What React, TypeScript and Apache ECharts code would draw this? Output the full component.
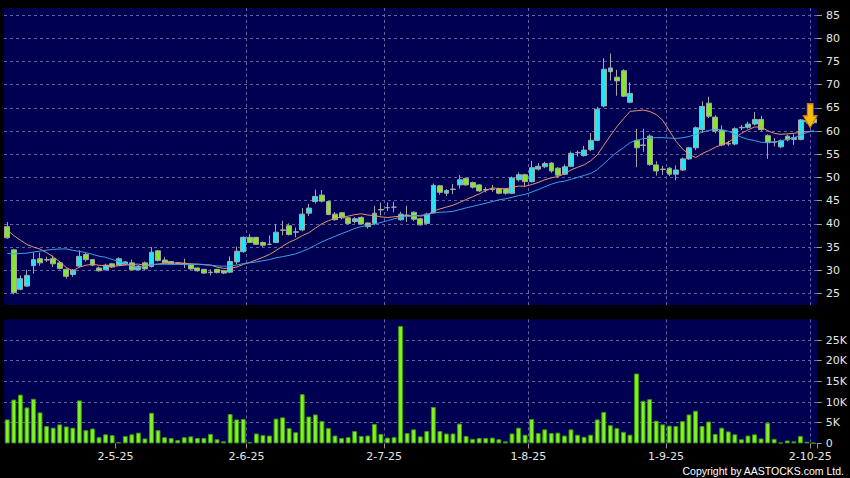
import React, { useEffect, useRef } from 'react';
import * as echarts from 'echarts';

// HK trading calendar used for the categories
const firstDay = [2025, 3, 3]; // 3 Apr 2025 (month is 0-based)
const dayCount = 124;
const holidays = ['2025-04-04', '2025-04-18', '2025-04-21', '2025-05-01', '2025-05-05', '2025-07-01', '2025-10-01'];
const tickLabels = ['2-5-25', '2-6-25', '2-7-25', '1-8-25', '1-9-25', '2-10-25'];

const opens = [
  39.4, 34.4, 25.9, 26.6, 31.0, 32.5, 32.2, 32.5, 31.6, 30.2,
  29.1, 30.9, 33.4, 32.3, 30.5, 30.1, 31.4, 31.1, 31.3, 31.6,
  30.1, 31.6, 30.8, 34.2, 32.2, 31.9, 31.5, 31.5, 31.3, 30.5,
  30.2, 29.5, 30.2, 29.9, 29.6, 31.8, 34.0, 37.1, 37.1, 36.0,
  35.6, 36.0, 38.6, 39.6, 38.2, 38.7, 42.3, 44.8, 46.2, 44.8,
  42.1, 42.4, 41.3, 40.5, 41.4, 40.2, 40.1, 43.0, 43.5, 43.6,
  40.9, 41.8, 42.5, 41.1, 40.1, 42.4, 48.2, 46.6, 47.4, 48.4,
  49.8, 48.9, 48.4, 47.3, 47.4, 47.6, 47.5, 46.6, 49.5, 50.6,
  49.1, 51.8, 52.3, 53.1, 52.0, 50.7, 52.4, 55.3, 54.7, 56.0,
  58.0, 65.4, 72.8, 71.6, 73.0, 66.2, 58.0, 57.0, 58.9, 52.7,
  51.7, 52.0, 50.7, 51.6, 54.0, 56.4, 60.3, 66.0, 63.0, 60.1,
  57.2, 57.2, 60.7, 60.8, 61.5, 62.5, 59.0, 57.6, 56.6, 58.9,
  58.2, 58.2, 62.0, 62.6,
];
const closes = [
  37.0, 25.2, 28.2, 28.9, 32.3, 31.6, 32.3, 31.4, 30.4, 28.7,
  30.0, 33.0, 32.3, 31.1, 29.9, 31.1, 30.7, 32.5, 31.8, 30.1,
  30.9, 30.3, 33.9, 32.1, 31.6, 31.4, 31.6, 31.4, 30.3, 29.9,
  29.4, 29.6, 29.5, 29.4, 31.9, 34.1, 37.1, 36.0, 35.6, 35.4,
  35.6, 38.2, 38.7, 37.7, 38.3, 42.1, 43.4, 45.9, 44.9, 42.0,
  40.9, 41.3, 40.1, 41.1, 40.0, 39.4, 42.3, 43.1, 43.5, 43.6,
  42.1, 41.9, 41.0, 39.8, 42.1, 48.3, 46.8, 47.2, 47.5, 49.5,
  48.4, 47.9, 47.1, 47.4, 47.5, 46.6, 46.6, 49.9, 50.6, 49.1,
  52.1, 52.4, 53.0, 51.4, 50.5, 52.3, 55.2, 55.4, 55.9, 58.0,
  64.7, 73.3, 73.6, 70.8, 67.5, 68.1, 56.4, 56.9, 52.8, 51.4,
  51.8, 50.7, 51.6, 54.0, 56.4, 60.7, 65.3, 63.2, 60.0, 57.0,
  57.3, 60.5, 60.8, 61.5, 62.5, 60.3, 57.5, 57.6, 57.9, 58.1,
  58.6, 62.4, 62.3, 61.8,
];
const lows = [
  36.8, 24.8, 25.7, 26.4, 29.3, 31.0, 31.8, 30.7, 30.2, 28.2,
  28.6, 30.6, 31.9, 30.9, 29.7, 30.0, 30.5, 30.9, 31.1, 30.0,
  30.0, 30.1, 30.6, 31.9, 31.5, 31.2, 31.3, 30.5, 30.1, 29.7,
  29.2, 28.9, 29.3, 29.2, 29.4, 31.3, 33.8, 35.9, 35.5, 35.0,
  35.4, 35.9, 37.5, 37.5, 37.1, 38.4, 41.7, 44.4, 44.6, 41.9,
  40.7, 41.0, 39.9, 40.1, 39.8, 39.0, 39.7, 41.8, 42.8, 42.5,
  40.7, 40.4, 40.6, 39.6, 39.9, 42.2, 46.3, 46.0, 46.4, 47.6,
  48.2, 47.6, 46.9, 46.8, 46.9, 46.4, 46.3, 46.4, 49.1, 48.0,
  48.9, 51.5, 52.0, 51.0, 50.0, 50.5, 52.2, 54.5, 54.5, 55.7,
  57.8, 65.1, 70.9, 67.6, 67.3, 66.0, 52.2, 55.5, 52.5, 50.4,
  50.6, 50.3, 49.4, 51.4, 53.8, 55.9, 59.6, 62.8, 59.5, 56.8,
  56.8, 56.9, 60.2, 60.5, 61.2, 60.0, 54.0, 56.7, 56.3, 57.8,
  57.0, 58.0, 61.6, 61.5,
];
const highs = [
  40.4, 34.6, 28.9, 30.1, 33.9, 33.8, 32.9, 33.2, 32.0, 30.4,
  30.3, 34.3, 33.8, 32.4, 30.8, 31.4, 31.6, 32.8, 32.0, 32.3,
  31.1, 31.9, 35.0, 34.4, 32.9, 32.0, 31.8, 32.5, 31.5, 30.6,
  30.3, 30.2, 30.3, 30.0, 33.0, 35.1, 37.3, 37.8, 37.2, 36.2,
  37.5, 40.0, 40.7, 40.1, 39.2, 43.4, 44.3, 47.4, 47.3, 44.9,
  42.6, 42.5, 41.5, 41.5, 41.6, 40.3, 43.9, 44.6, 44.6, 44.8,
  42.6, 43.9, 42.7, 41.3, 42.4, 48.7, 48.4, 47.5, 48.6, 50.5,
  50.0, 49.1, 48.6, 47.9, 48.4, 47.8, 47.6, 50.2, 51.1, 50.8,
  53.6, 53.1, 53.4, 53.3, 52.2, 52.8, 55.6, 55.8, 56.8, 59.6,
  65.2, 75.7, 76.7, 73.2, 73.3, 70.5, 60.5, 60.5, 59.3, 53.5,
  52.5, 52.2, 52.6, 54.3, 56.6, 61.0, 66.4, 67.4, 63.4, 61.2,
  57.9, 60.8, 61.3, 62.0, 64.1, 63.3, 59.3, 58.5, 58.2, 59.2,
  59.3, 62.6, 62.7, 62.8,
];
const volumes = [
  5800, 10600, 11800, 8700, 10800, 7500, 4200, 3800, 4600, 4100,
  3800, 10400, 3200, 3600, 1500, 2200, 2000, 300, 1800, 2200,
  2600, 1200, 7400, 3200, 1500, 1300, 800, 1500, 1700, 1300,
  1300, 2300, 1000, 500, 7100, 5800, 5900, 300, 2400, 2000,
  1900, 6000, 6300, 3700, 2700, 11900, 6500, 7000, 5400, 3700,
  1900, 1300, 1500, 3000, 1800, 1900, 4700, 2300, 1400, 1500,
  28400, 2500, 3400, 1700, 3000, 8800, 3000, 2400, 2400, 4800,
  1800, 1100, 1300, 1300, 1400, 1000, 500, 2400, 3800, 2100,
  5900, 2500, 3400, 2500, 2600, 1900, 3400, 2100, 1600, 2100,
  5800, 7600, 4400, 3700, 2800, 2100, 16900, 10300, 10700, 5500,
  4600, 4300, 4200, 5400, 7000, 7900, 4200, 5300, 2300, 3800,
  2900, 2200, 1000, 1900, 2200, 1200, 5000, 1100, 200, 700,
  500, 1800, 400, 100,
];
// closes before the first visible day (estimated so the averages start where the picture shows)
const priorCloses = [26.5, 27, 27.2, 27.5, 27.8, 28, 28.3, 28.6, 28.5, 36, 37.5, 38, 38.2, 37.9, 35.8, 40, 40.5, 41, 41.1];

const NAVY = '#000052';
const GRID_LINE = { color: '#62629c', type: [3, 3] as number[], width: 1 };
const LABEL_COLOR = '#e6e6e6';
const FONT = 'DejaVu Sans';

function tradingDays(): string[] {
  const out: string[] = [];
  const d = new Date(Date.UTC(firstDay[0], firstDay[1], firstDay[2]));
  while (out.length < dayCount) {
    const iso = d.toISOString().slice(0, 10);
    const wd = d.getUTCDay();
    if (wd !== 0 && wd !== 6 && !holidays.includes(iso)) {
      out.push(`${d.getUTCDate()}-${d.getUTCMonth() + 1}-${String(d.getUTCFullYear()).slice(2)}`);
    }
    d.setUTCDate(d.getUTCDate() + 1);
  }
  return out;
}

function movingAverage(n: number): number[] {
  const all = priorCloses.concat(closes);
  return closes.map((_, i) => {
    const end = priorCloses.length + i;
    let s = 0;
    for (let j = end - n + 1; j <= end; j++) s += all[j];
    return +(s / n).toFixed(3);
  });
}

function buildOption() {
  const dates = tradingDays();
  const isTick = (_i: number, v: string) => tickLabels.includes(v);
  const ohlc = opens.map((o, i) => [o, closes[i], lows[i], highs[i]]);
  const hiddenX = (gridIndex: number, split: boolean) => ({
    type: 'category', gridIndex, data: dates, boundaryGap: true,
    axisLine: { show: false }, axisTick: { show: false }, axisLabel: { show: false },
    splitLine: { show: split, interval: isTick, showMinLine: false, showMaxLine: false, lineStyle: GRID_LINE },
  });
  const rightAxisCommon = {
    type: 'value', position: 'right',
    axisLine: { show: false },
    axisTick: { show: true, length: 5, lineStyle: { color: '#9a9a9a' } },
  };
  return {
    animation: false,
    backgroundColor: '#000',
    textStyle: { fontFamily: FONT },
    graphic: [
      { type: 'rect', z: -10, silent: true, shape: { x: 4, y: 8, width: 813, height: 297 }, style: { fill: NAVY } },
      { type: 'rect', z: -10, silent: true, shape: { x: 4, y: 319.4, width: 813, height: 124 }, style: { fill: NAVY } },
      {
        type: 'text', x: 844, y: 471, silent: true,
        style: { text: 'Copyright by AASTOCKS.com Ltd.', fill: '#ffffff', font: '10.5px "Liberation Sans"', align: 'right', verticalAlign: 'middle' },
      },
    ],
    grid: [
      { left: 4, right: 33, top: 15, height: 278.5 },
      { left: 4, right: 33, top: 340, height: 103.4 },
      { left: 4, right: 33, top: 8, height: 297 },
      { left: 4, right: 33, top: 319.4, height: 124 },
    ],
    xAxis: [
      hiddenX(0, false),
      {
        type: 'category', gridIndex: 1, data: dates, boundaryGap: true,
        axisLine: { show: false },
        axisTick: { show: true, interval: isTick, length: 5, lineStyle: { color: '#9a9a9a' } },
        axisLabel: { show: true, interval: isTick, color: LABEL_COLOR, fontSize: 11, fontFamily: FONT, margin: 8, padding: [0, 6.6, 0, 0] },
        splitLine: { show: false },
      },
      hiddenX(2, true),
      hiddenX(3, true),
    ],
    yAxis: [
      {
        ...rightAxisCommon, gridIndex: 0, min: 25, max: 85, interval: 5,
        axisLabel: { color: LABEL_COLOR, fontSize: 11, fontFamily: FONT, margin: 9 },
        splitLine: { show: true, lineStyle: GRID_LINE },
      },
      {
        ...rightAxisCommon, gridIndex: 1, min: 0, max: 25000, interval: 5000,
        axisLabel: {
          color: LABEL_COLOR, fontSize: 11, fontFamily: FONT, margin: 9,
          formatter: (v: number) => (v === 0 ? '0' : `${v / 1000}K`),
        },
        splitLine: { show: true, showMinLine: false, lineStyle: GRID_LINE },
      },
      { type: 'value', gridIndex: 2, show: false, min: 0, max: 1 },
      { type: 'value', gridIndex: 3, show: false, min: 0, max: 1 },
    ],
    series: [
      {
        type: 'candlestick', name: 'Price', xAxisIndex: 0, yAxisIndex: 0, data: ohlc,
        barWidth: '82%', clip: false, z: 2,
        itemStyle: { color: '#22e4f2', color0: '#86e62c', borderColor: '#a6a6a6', borderColor0: '#a6a6a6', borderColorDoji: '#a6a6a6', borderWidth: 1 },
        markPoint: {
          silent: true,
          symbol: 'path://M4,0 L10,0 L10,12 L14,12 L7,24 L0,12 L4,12 Z',
          symbolSize: [14, 24],
          symbolKeepAspect: false,
          label: { show: false },
          itemStyle: { color: '#f7bc0a', borderColor: '#c07a00', borderWidth: 1 },
          data: [{ coord: [dates[122], 63.3], symbolOffset: [3, 0] }],
        },
      },
      {
        type: 'line', name: 'MA10', xAxisIndex: 0, yAxisIndex: 0, data: movingAverage(10),
        showSymbol: false, z: 3, lineStyle: { color: '#e8936e', width: 1 },
      },
      {
        type: 'line', name: 'MA20', xAxisIndex: 0, yAxisIndex: 0, data: movingAverage(20),
        showSymbol: false, z: 3, lineStyle: { color: '#3c9fe8', width: 1 },
      },
      {
        type: 'bar', name: 'Volume', xAxisIndex: 1, yAxisIndex: 1, data: volumes,
        barWidth: '74%', clip: false,
        itemStyle: { color: '#80f41e', borderColor: '#3e980c', borderWidth: 1 },
      },
    ],
  };
}

export default function App() {
  const ref = useRef<HTMLDivElement>(null);
  useEffect(() => {
    document.body.style.margin = '0';
    document.body.style.background = '#000';
    const chart = echarts.init(ref.current as HTMLDivElement, null, { renderer: 'svg' });
    chart.setOption(buildOption() as any);
    return () => chart.dispose();
  }, []);
  return <div ref={ref} style={{ width: 850, height: 478, background: '#000' }} />;
}
